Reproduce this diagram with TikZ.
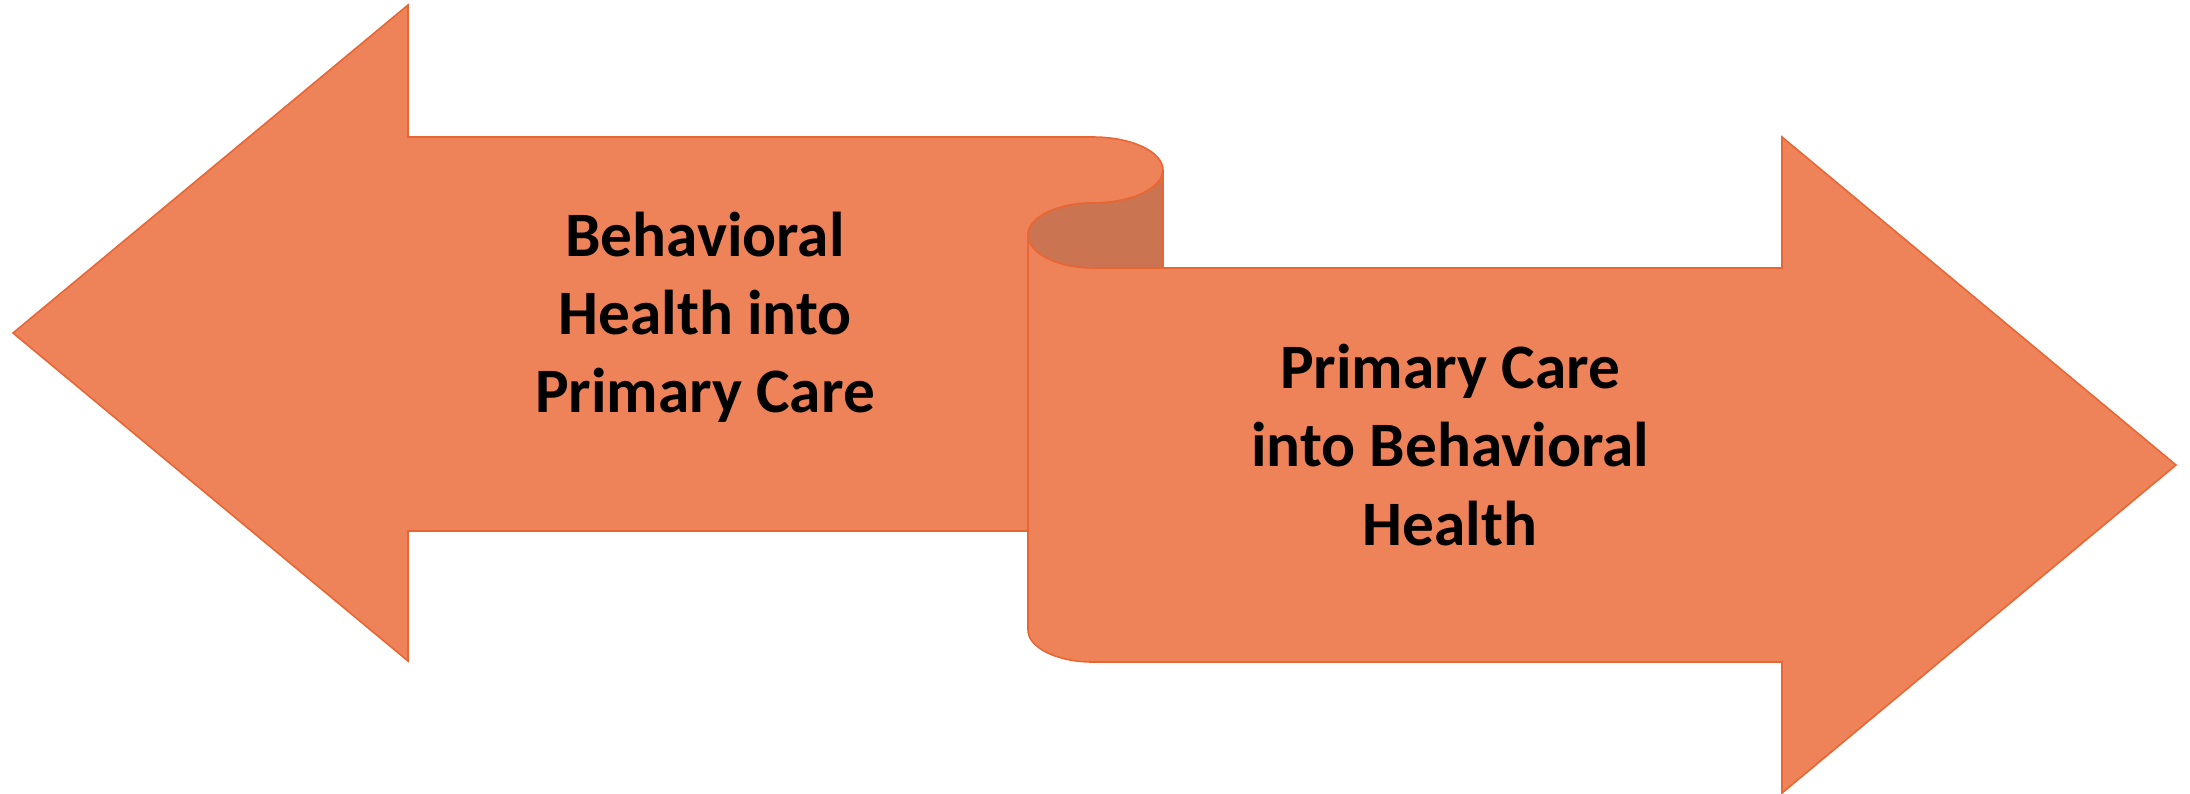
\documentclass[tikz,border=0pt]{standalone}
\usepackage{fontspec}
\setmainfont{Carlito}
\definecolor{arrowfill}{RGB}{238,130,89}
\definecolor{arrowedge}{RGB}{232,102,52}
\definecolor{curlshade}{RGB}{203,116,81}
\tikzset{
  arrowshape/.style={fill=arrowfill, draw=arrowedge, line width=0.45pt, line join=miter},
  shadeshape/.style={fill=curlshade, draw=arrowedge, line width=0.45pt},
  label/.style={align=center, text=black, font=\bfseries\fontsize{18}{22.2}\selectfont, inner sep=0pt}
}
\begin{document}
\begin{tikzpicture}[x=0.01cm,y=-0.01cm]
\useasboundingbox (0,0) rectangle (2190,793);
% left arrow (Behavioral Health into Primary Care)
\path[arrowshape] (1093,137) -- (408,137) -- (408,5) -- (13,333) -- (408,661) -- (408,531) -- (1028,531) -- (1028,235)
  .. controls (1028,217.3) and (1057.1,203) .. (1093,203)
  .. controls (1131.7,203) and (1163,188.2) .. (1163,170)
  .. controls (1163,151.8) and (1131.7,137) .. (1093,137) -- cycle;
% shaded inside of the scroll
\path[shadeshape] (1163,170)
  .. controls (1163,188.2) and (1131.7,203) .. (1093,203)
  .. controls (1057.1,203) and (1028,217.3) .. (1028,235)
  .. controls (1028,253.2) and (1057.1,268) .. (1093,268)
  -- (1163,268) -- cycle;
% right arrow (Primary Care into Behavioral Health)
\path[arrowshape] (1028,235)
  .. controls (1028,253.2) and (1057.1,268) .. (1093,268)
  -- (1782,268) -- (1782,137) -- (2176,465) -- (1782,793) -- (1782,662) -- (1093,662)
  .. controls (1057.1,662) and (1028,647.7) .. (1028,630) -- cycle;
\node[label] (lefttext) at (705,317) {Behavioral\\Health into\\Primary Care};
\node[label] (righttext) at (1450,445) {Primary Care\\into Behavioral\\Health};
\end{tikzpicture}
\end{document}
